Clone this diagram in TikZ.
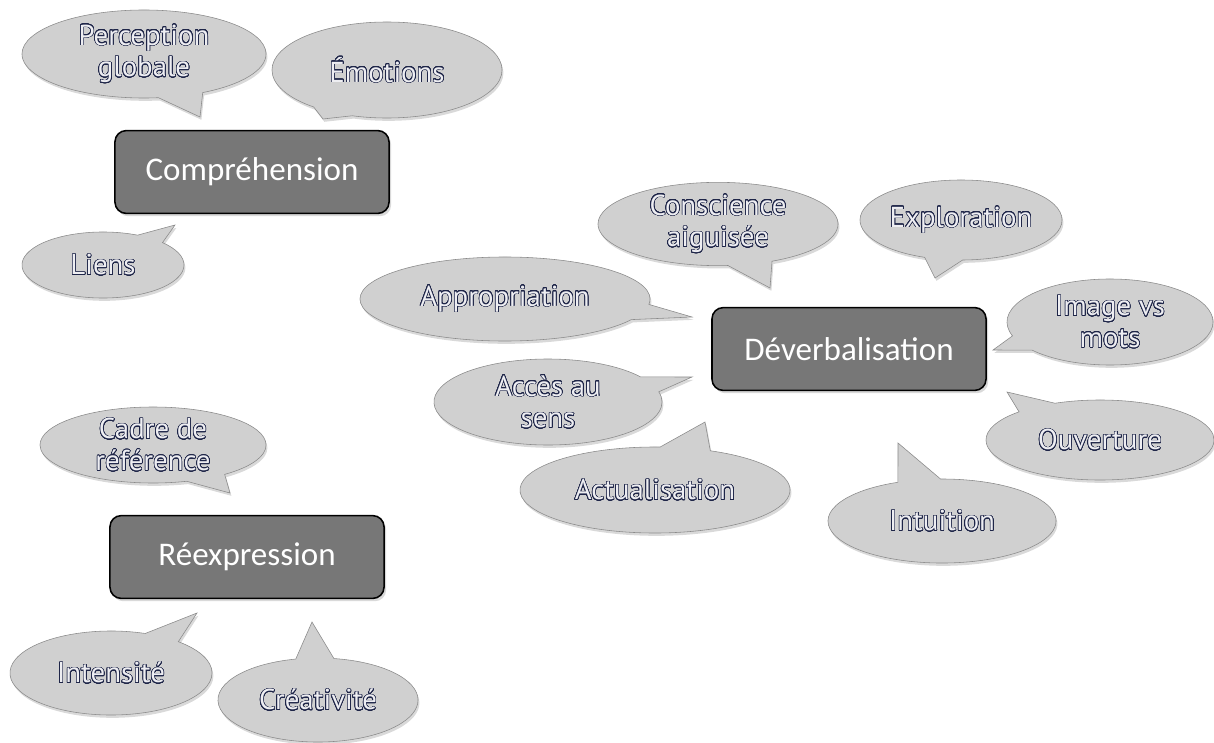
\documentclass[tikz,border=0pt]{standalone}
\usepackage{fontspec}
\setmainfont{Carlito}
\newfontfamily\bubblefont{PT Sans}
\usepackage{contour}
\usetikzlibrary{shapes,shapes.callouts,shadows}

\definecolor{boxgrey}{HTML}{777777}
\definecolor{bubblegrey}{HTML}{D0D0D0}
\definecolor{bubbleline}{HTML}{8A8A8A}
\definecolor{inkblue}{HTML}{1E2548}
\definecolor{inkfill}{HTML}{EEEEF2}

\contourlength{0.45pt}
\contournumber{32}
\newcommand{\hollow}[1]{{\color{inkfill}\contour{inkblue}{#1}}}

\begin{document}
\begin{tikzpicture}[
        x=0.025cm, y=-0.025cm,
        theme/.style={rectangle, rounded corners=8pt, draw=black, line width=1.1pt,
            fill=boxgrey, text=white, font=\fontsize{23.5}{28}\selectfont,
            minimum width=6.85cm, minimum height=2.07cm,
            drop shadow={shadow xshift=1.5pt, shadow yshift=-2pt, opacity=0.3}},
        bubble/.style={ellipse callout, draw=bubbleline, fill=bubblegrey,
            callout pointer arc=22, inner sep=0pt, align=center,
            font=\bubblefont\fontsize{20.5}{22.5}\selectfont,
            drop shadow={shadow xshift=1pt, shadow yshift=-2pt, opacity=0.3}},
    ]
    \useasboundingbox (0,0) rectangle (1214,742);

    %Pointer tips of the bubbles
    \coordinate (tperc) at (200,117);
    \coordinate (temo) at (323,119);
    \coordinate (tlien) at (175,225);
    \coordinate (tcons) at (770,288);
    \coordinate (texpl) at (935,278);
    \coordinate (tappr) at (692,317);
    \coordinate (timg) at (993,350);
    \coordinate (touv) at (1007,392);
    \coordinate (tacc) at (692,377);
    \coordinate (tact) at (705,422);
    \coordinate (tint) at (898,443);
    \coordinate (tcadre) at (230,493);
    \coordinate (tinten) at (197,613);
    \coordinate (tcrea) at (312,622);

    %Draw the three theme boxes
    \node [theme] (compr) at (252,172) {Compréhension};
    \node [theme] (deverb) at (849,349) {Déverbalisation};
    \node [theme] (reexp) at (247,557) {Réexpression};

    %Bubbles around Compréhension
    \node [bubble, minimum width=6.1cm, minimum height=2.2cm, callout absolute pointer={(tperc)}]
        (perc) at (144,54) {\hollow{Perception}\\\hollow{globale}};
    \node [bubble, minimum width=5.75cm, minimum height=2.4cm, callout absolute pointer={(temo)}]
        (emo) at (387,70) {\hollow{Émotions}};
    \node [bubble, minimum width=4.05cm, minimum height=1.65cm, callout absolute pointer={(tlien)}]
        (lien) at (103,265) {\hollow{Liens}};

    %Bubbles around Déverbalisation
    \node [bubble, minimum width=6.0cm, minimum height=2.05cm, callout absolute pointer={(tcons)}]
        (cons) at (718,224) {\hollow{Conscience}\\\hollow{aiguisée}};
    \node [bubble, minimum width=5.05cm, minimum height=2.0cm, callout absolute pointer={(texpl)}]
        (expl) at (961,220) {\hollow{Exploration}};
    \node [bubble, minimum width=7.25cm, minimum height=2.1cm, callout absolute pointer={(tappr)}]
        (appr) at (505,299) {\hollow{Appropriation}};
    \node [bubble, minimum width=5.15cm, minimum height=2.15cm, callout absolute pointer={(timg)}]
        (img) at (1110,322) {\hollow{Image vs}\\\hollow{mots}};
    \node [bubble, minimum width=5.7cm, minimum height=2.0cm, callout absolute pointer={(touv)}]
        (ouv) at (1100,440) {\hollow{Ouverture}};
    \node [bubble, minimum width=5.7cm, minimum height=2.15cm, callout absolute pointer={(tacc)}]
        (acc) at (548,402) {\hollow{Accès au}\\\hollow{sens}};
    \node [bubble, minimum width=6.75cm, minimum height=2.15cm, callout absolute pointer={(tact)}]
        (act) at (655,490) {\hollow{Actualisation}};
    \node [bubble, minimum width=5.7cm, minimum height=2.1cm, callout absolute pointer={(tint)}]
        (int) at (942,521) {\hollow{Intuition}};

    %Bubbles around Réexpression
    \node [bubble, minimum width=5.65cm, minimum height=1.9cm, callout absolute pointer={(tcadre)}]
        (cadre) at (153,445) {\hollow{Cadre de}\\\hollow{référence}};
    \node [bubble, minimum width=5.05cm, minimum height=2.1cm, callout absolute pointer={(tinten)}]
        (inten) at (111,673) {\hollow{Intensité}};
    \node [bubble, minimum width=5.0cm, minimum height=2.1cm, callout absolute pointer={(tcrea)}]
        (crea) at (318,700) {\hollow{Créativité}};
\end{tikzpicture}
\end{document}
